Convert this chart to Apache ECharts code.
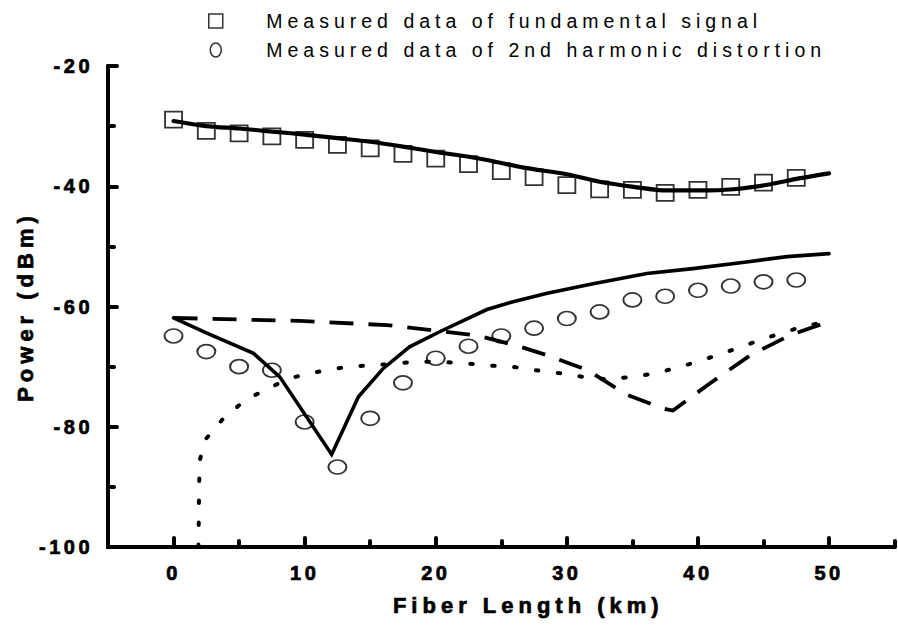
<!DOCTYPE html>
<html>
<head>
<meta charset="utf-8">
<script src="https://cdn.jsdelivr.net/npm/echarts@6/dist/echarts.min.js"></script>
<style>
  html, body { margin: 0; padding: 0; background: #fff; }
  #chart { width: 898px; height: 628px; }
</style>
</head>
<body>
<div id="chart"></div>
<script>
// Measurement positions along the fiber (km)
const lengthKm = [0, 2.5, 5, 7.5, 10, 12.5, 15, 17.5, 20, 22.5, 25, 27.5, 30, 32.5, 35, 37.5, 40, 42.5, 45, 47.5];
// Measured fundamental power (dBm)
const fundamentalMeasured = [-28.9, -30.8, -31.2, -31.7, -32.3, -33.1, -33.7, -34.6, -35.4, -36.3, -37.5, -38.5, -39.8, -40.5, -40.6, -41.1, -40.6, -40.1, -39.4, -38.6];
// Measured 2nd harmonic distortion (dBm)
const harmonicMeasured = [-64.9, -67.5, -70.0, -70.6, -79.2, -86.7, -78.6, -72.7, -68.6, -66.6, -64.9, -63.6, -62.0, -60.9, -58.9, -58.3, -57.3, -56.6, -55.9, -55.6];

// Calculated fundamental curve
const fundamentalCalcKm = [0, 2.5, 5, 7.5, 10, 12.5, 15, 17.5, 20, 22.5, 24.2, 26.7, 30, 32.5, 35.1, 37.6, 40.2, 42.7, 45.2, 47.7, 50];
const fundamentalCalc = [-29.15, -30.0, -30.4, -30.9, -31.4, -32.0, -32.6, -33.4, -34.3, -35.1, -35.75, -36.9, -38.0, -39.25, -40.1, -40.7, -40.7, -40.5, -39.8, -38.7, -37.85];

// Calculated total 2nd harmonic
const harmonicCalcKm = [0, 2.5, 6.1, 8.1, 12.06, 14.1, 16, 18, 20.3, 23.9, 25.9, 28.5, 32, 36.1, 39.6, 43.7, 46.8, 50];
const harmonicCalc = [-61.9, -64.4, -67.8, -71.7, -84.6, -75.0, -70.3, -66.7, -64.2, -60.5, -59.2, -57.8, -56.2, -54.5, -53.7, -52.6, -51.7, -51.2];

// First distortion component (dashed)
const componentAKm = [0, 9.6, 16.3, 23.1, 26, 28.5, 31.6, 34.6, 37.4, 38.1, 40.9, 44, 47, 50];
const componentA = [-61.9, -62.4, -63.1, -64.8, -66.4, -68.1, -70.6, -74.7, -77.0, -77.3, -72.8, -68.1, -64.8, -62.5];

// Second distortion component (dotted)
const componentBKm = [1.9, 1.95, 2.0, 2.4, 3.8, 5.45, 7.4, 9.1, 10.9, 12.8, 14.7, 16.4, 18.4, 20, 22.1, 23.9, 25.8, 27.6, 29.5, 31.2, 33.1, 35, 36.8, 38.7, 40.5, 42.4, 44.2, 46.1, 47.9, 49.8];
const componentB = [-100, -90, -85.6, -82.2, -78.6, -75.6, -73.4, -71.8, -70.9, -70.2, -69.8, -69.6, -69.2, -69.2, -69.4, -69.8, -70.0, -70.6, -71.1, -71.7, -72.1, -71.7, -71.1, -70.0, -68.8, -67.4, -66.0, -64.6, -63.4, -62.5];

// Axis tick positions
const xMajorTicks = [0, 10, 20, 30, 40, 50];
const xMinorTicks = [-5, 5, 15, 25, 35, 45, 55];

const zip = (xs, ys) => xs.map((x, i) => [x, ys[i]]);

const FONT = '"Liberation Sans", Arial, Helvetica, sans-serif';
const INK = '#000';

const chart = echarts.init(document.getElementById('chart'), null, { renderer: 'svg' });

const tickStyle = { color: INK, width: 4, cap: 'round' };
// Heavy bold lettering for axis labels and titles
const heavy = { fontFamily: FONT, fontWeight: 700, color: INK, textBorderColor: INK, textBorderWidth: 0.7 };

const option = {
  animation: false,
  backgroundColor: '#fff',
  grid: { left: 108, right: 3.4, top: 66, bottom: 81 },
  legend: {
    orient: 'vertical',
    left: 203,
    top: 6,
    padding: 5,
    itemWidth: 15,
    itemHeight: 14,
    itemGap: 9,
    selectedMode: false,
    itemStyle: { color: '#fff', borderColor: INK, borderWidth: 1.5 },
    textStyle: { fontFamily: FONT, fontSize: 19.5, color: INK, padding: [0, 0, 0, 38] },
    data: [
      { name: 'Measured data of fundamental signal', icon: 'path://M0,0H13V13H0Z' },
      { name: 'Measured data of 2nd harmonic distortion', icon: 'path://M0,7A5.5,7 0 1,1 11,7A5.5,7 0 1,1 0,7Z' }
    ]
  },
  xAxis: [
    {
      type: 'value', min: -5, max: 55, position: 'bottom',
      axisLine: { onZero: false, lineStyle: { color: INK, width: 4 } },
      axisTick: { inside: true, length: 6, customValues: xMinorTicks, lineStyle: tickStyle },
      axisLabel: { show: false },
      splitLine: { show: false },
      name: 'Fiber Length (km)', nameLocation: 'middle', nameGap: 47,
      nameTextStyle: Object.assign({ fontSize: 22, padding: [0, 0, 0, 54] }, heavy)
    },
    {
      type: 'value', min: -5, max: 55, position: 'bottom',
      axisLine: { show: false, onZero: false },
      axisTick: { inside: true, length: 9, customValues: xMajorTicks, lineStyle: tickStyle },
      axisLabel: Object.assign({ customValues: xMajorTicks, margin: 16, fontSize: 20 }, heavy),
      splitLine: { show: false }
    }
  ],
  yAxis: {
    type: 'value', min: -100, max: -20, interval: 20,
    axisLine: { show: true, onZero: false, lineStyle: { color: INK, width: 4 } },
    axisTick: { inside: true, length: 9, lineStyle: tickStyle },
    minorTick: { show: true, splitNumber: 2, length: 6, lineStyle: tickStyle },
    axisLabel: Object.assign({ margin: 15, fontSize: 20 }, heavy),
    splitLine: { show: false },
    name: 'Power (dBm)', nameLocation: 'middle', nameGap: 72,
    nameTextStyle: Object.assign({ fontSize: 22 }, heavy)
  },
  series: [
    {
      name: 'Measured data of fundamental signal', type: 'scatter', z: 2,
      symbol: 'rect', symbolSize: [17, 16],
      itemStyle: { color: '#fff', borderColor: INK, borderWidth: 1.8 },
      data: zip(lengthKm, fundamentalMeasured)
    },
    {
      name: 'Measured data of 2nd harmonic distortion', type: 'scatter', z: 2,
      symbol: 'path://M0,7A9,7 0 1,1 18,7A9,7 0 1,1 0,7Z', symbolSize: [18, 14],
      symbolKeepAspect: false,
      itemStyle: { color: '#fff', borderColor: INK, borderWidth: 1.8 },
      data: zip(lengthKm, harmonicMeasured)
    },
    {
      name: 'Calculated fundamental', type: 'line', z: 3, symbol: 'none', smooth: 0.3,
      lineStyle: { color: INK, width: 4.2, cap: 'round' },
      data: zip(fundamentalCalcKm, fundamentalCalc)
    },
    {
      name: 'Calculated 2nd harmonic', type: 'line', z: 3, symbol: 'none',
      lineStyle: { color: INK, width: 3.6, cap: 'round', join: 'miter' },
      data: zip(harmonicCalcKm, harmonicCalc)
    },
    {
      name: 'Component A', type: 'line', z: 3, symbol: 'none',
      lineStyle: { color: INK, width: 3.8, type: [24, 15], cap: 'butt' },
      data: zip(componentAKm, componentA)
    },
    {
      name: 'Component B', type: 'line', z: 3, symbol: 'none',
      lineStyle: { color: INK, width: 4, type: [2.5, 19.5], cap: 'round' },
      data: zip(componentBKm, componentB)
    }
  ]
};

chart.setOption(option);

// Spread out the lettering like the typeset figure
function trackText() {
  const spacing = { '19.5px': '5px', '20px': '3.5px', '22px': '5px' };
  document.querySelectorAll('#chart text').forEach(t => {
    const fs = getComputedStyle(t).fontSize;
    if (spacing[fs]) t.style.letterSpacing = spacing[fs];
  });
}
chart.on('finished', trackText);
setTimeout(trackText, 50);
</script>
</body>
</html>
